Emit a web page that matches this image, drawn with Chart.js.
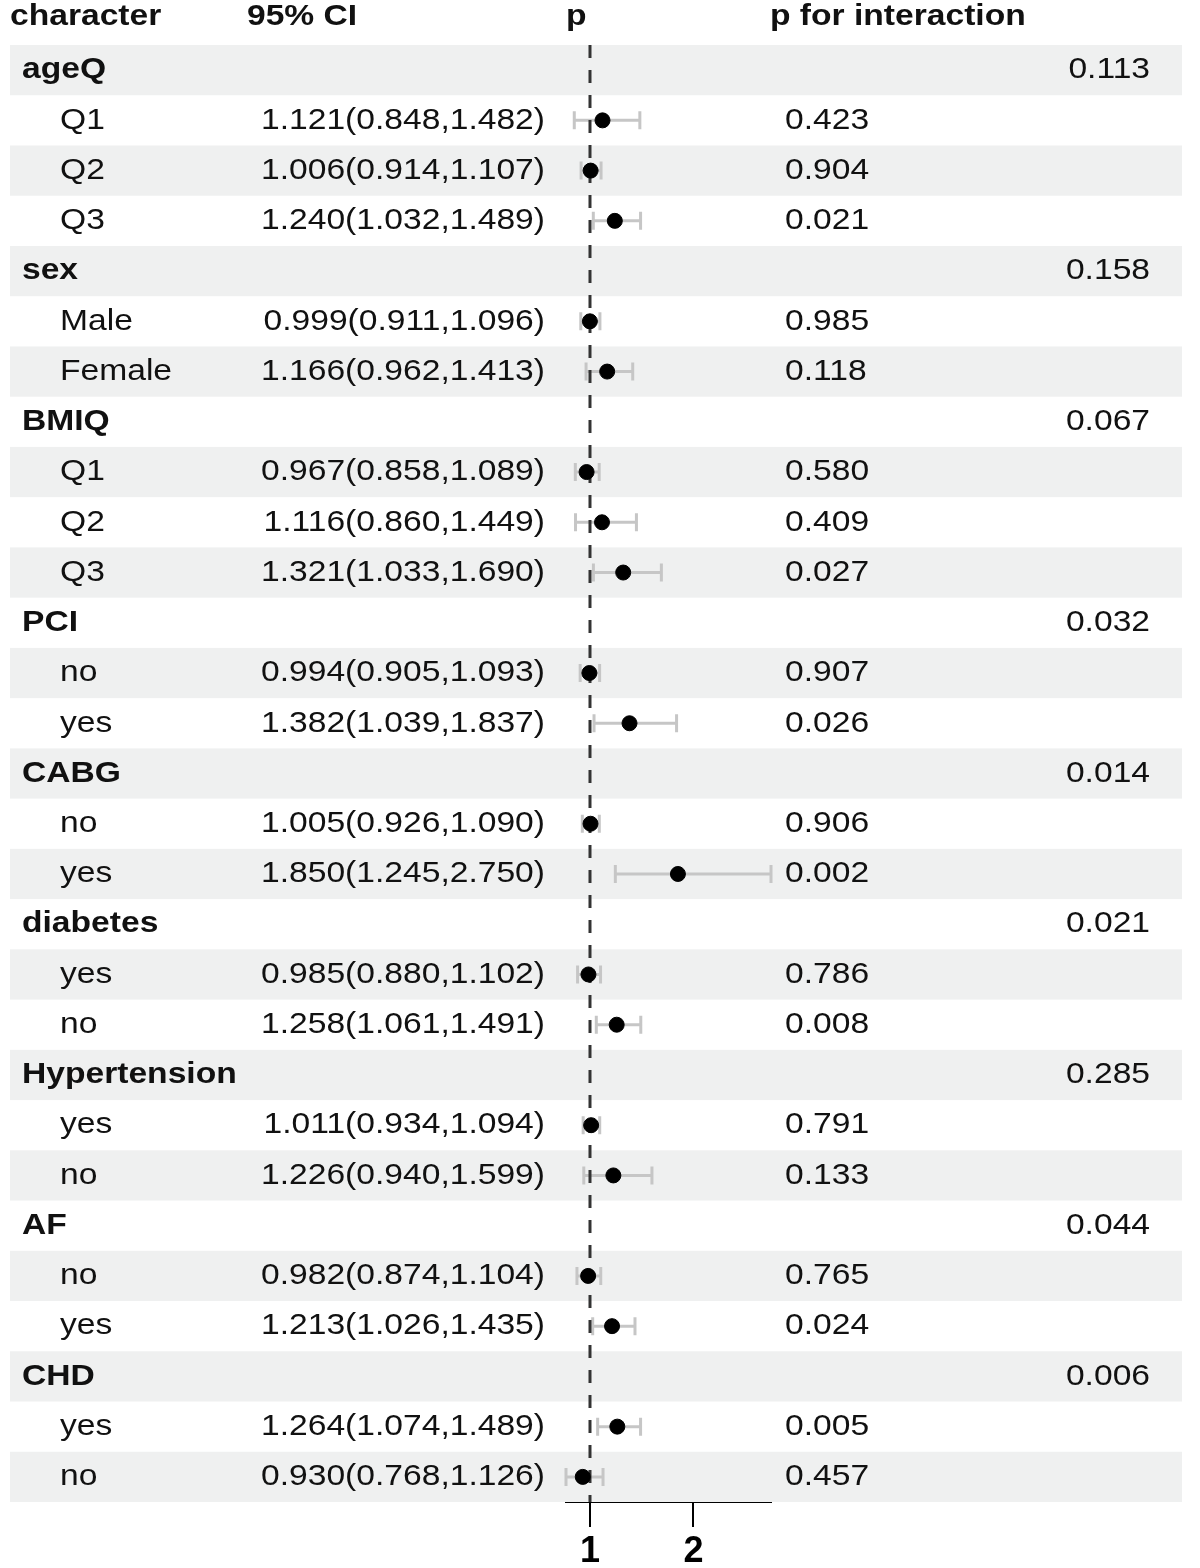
<!DOCTYPE html>
<html>
<head>
<meta charset="utf-8">
<script src="https://cdn.jsdelivr.net/npm/chart.js@4/dist/chart.umd.min.js"></script>
<style>
  body { margin: 0; background: #fff; }
  canvas { display: block; }
</style>
</head>
<body>
<canvas id="forest" width="1200" height="1568"></canvas>
<script>
// linhas do forest plot (grupo = true para os títulos em negrito)
const rowLabels = ['ageQ', 'Q1', 'Q2', 'Q3', 'sex', 'Male', 'Female', 'BMIQ', 'Q1', 'Q2', 'Q3',
  'PCI', 'no', 'yes', 'CABG', 'no', 'yes', 'diabetes', 'yes', 'no', 'Hypertension', 'yes', 'no',
  'AF', 'no', 'yes', 'CHD', 'yes', 'no'];
const rowIsGroup = [true, false, false, false, true, false, false, true, false, false, false,
  true, false, false, true, false, false, true, false, false, true, false, false,
  true, false, false, true, false, false];

const orValues = [null, 1.121, 1.006, 1.240, null, 0.999, 1.166, null, 0.967, 1.116, 1.321,
  null, 0.994, 1.382, null, 1.005, 1.850, null, 0.985, 1.258, null, 1.011, 1.226,
  null, 0.982, 1.213, null, 1.264, 0.930];
const ciLow = [null, 0.848, 0.914, 1.032, null, 0.911, 0.962, null, 0.858, 0.860, 1.033,
  null, 0.905, 1.039, null, 0.926, 1.245, null, 0.880, 1.061, null, 0.934, 0.940,
  null, 0.874, 1.026, null, 1.074, 0.768];
const ciHigh = [null, 1.482, 1.107, 1.489, null, 1.096, 1.413, null, 1.089, 1.449, 1.690,
  null, 1.093, 1.837, null, 1.090, 2.750, null, 1.102, 1.491, null, 1.094, 1.599,
  null, 1.104, 1.435, null, 1.489, 1.126];
const pValues = [null, '0.423', '0.904', '0.021', null, '0.985', '0.118', null, '0.580', '0.409', '0.027',
  null, '0.907', '0.026', null, '0.906', '0.002', null, '0.786', '0.008', null, '0.791', '0.133',
  null, '0.765', '0.024', null, '0.005', '0.457'];
const pInteraction = ['0.113', null, null, null, '0.158', null, null, '0.067', null, null, null,
  '0.032', null, null, '0.014', null, null, '0.021', null, null, '0.285', null, null,
  '0.044', null, null, '0.006', null, null];

const headers = ['character', '95% CI', 'p', 'p for interaction'];
const xTicks = [1, 2];

const FONT = '"Liberation Sans", Arial, sans-serif';
const STRETCH = 1.12; // o texto da figura original é mais largo

function texto(ctx, str, x, y, align, bold) {
  ctx.save();
  ctx.translate(x, y);
  ctx.scale(STRETCH, 1);
  ctx.font = (bold ? 'bold ' : '') + '30px ' + FONT;
  ctx.textAlign = align;
  ctx.textBaseline = 'middle';
  ctx.fillStyle = '#111';
  ctx.fillText(str, 0, 0);
  ctx.restore();
}

const pontos = [];
orValues.forEach((v, i) => { if (v !== null) pontos.push({ x: v, y: i }); });

// faixas cinza, textos e barras de erro
const tabelaPlugin = {
  id: 'tabela',
  beforeDatasetsDraw(chart) {
    const ctx = chart.ctx;
    const xs = chart.scales.x, ys = chart.scales.y;

    rowLabels.forEach((lab, i) => {
      if (i % 2 === 0) {
        const t = ys.getPixelForValue(i - 0.5), b = ys.getPixelForValue(i + 0.5);
        ctx.fillStyle = '#eff0f0';
        ctx.fillRect(10, t, 1172, b - t);
      }
    });

    const hy = ys.getPixelForValue(-1) - 3;
    texto(ctx, headers[0], 10, hy, 'left', true);
    texto(ctx, headers[1], 247, hy, 'left', true);
    texto(ctx, headers[2], 566, hy, 'left', true);
    texto(ctx, headers[3], 770, hy, 'left', true);

    rowLabels.forEach((lab, i) => {
      const y = ys.getPixelForValue(i);
      if (rowIsGroup[i]) {
        texto(ctx, lab, 22, y, 'left', true);
      } else {
        texto(ctx, lab, 60, y, 'left', false);
        const ci = orValues[i].toFixed(3) + '(' + ciLow[i].toFixed(3) + ',' + ciHigh[i].toFixed(3) + ')';
        texto(ctx, ci, 545, y, 'right', false);
        texto(ctx, pValues[i], 785, y, 'left', false);
      }
      if (pInteraction[i]) texto(ctx, pInteraction[i], 1150, y, 'right', false);
    });

    // barras de erro
    ctx.save();
    ctx.strokeStyle = '#c6c6c6';
    ctx.lineWidth = 3;
    orValues.forEach((v, i) => {
      if (v === null) return;
      const y = ys.getPixelForValue(i);
      const x1 = xs.getPixelForValue(ciLow[i]), x2 = xs.getPixelForValue(ciHigh[i]);
      ctx.beginPath();
      ctx.moveTo(x1, y); ctx.lineTo(x2, y);
      ctx.moveTo(x1, y - 9); ctx.lineTo(x1, y + 9);
      ctx.moveTo(x2, y - 9); ctx.lineTo(x2, y + 9);
      ctx.stroke();
    });
    ctx.restore();
  }
};

const config = {
  type: 'scatter',
  data: {
    datasets: [{
      data: pontos,
      backgroundColor: '#000',
      borderColor: '#000',
      pointRadius: 7.5,
      order: 0
    }, {
      data: [{ x: 1, y: -0.5 }, { x: 1, y: rowLabels.length - 0.5 }],
      showLine: true,
      borderColor: '#333',
      borderWidth: 3,
      borderDash: [13, 12],
      pointRadius: 0,
      order: 1
    }]
  },
  options: {
    responsive: false,
    animation: false,
    layout: { padding: { left: 566, right: 429, top: 45, bottom: 0 } },
    plugins: { legend: { display: false }, tooltip: { enabled: false } },
    scales: {
      x: {
        type: 'linear',
        min: 0.768,
        max: 2.75,
        afterBuildTicks: s => { s.ticks = xTicks.map(v => ({ value: v })); },
        afterFit: s => { s.height = 66; },
        grid: { drawOnChartArea: false, drawTicks: true, tickLength: 25, color: '#000', lineWidth: 2 },
        border: { display: true, color: '#000', width: 2 },
        ticks: { font: { family: FONT, size: 36, weight: 'bold' }, color: '#000', padding: 3 }
      },
      y: {
        type: 'linear',
        min: -0.5,
        max: rowLabels.length - 0.5,
        reverse: true,
        display: false
      }
    }
  },
  plugins: [tabelaPlugin]
};

const grafico = new Chart(document.getElementById('forest'), config);
</script>
</body>
</html>
